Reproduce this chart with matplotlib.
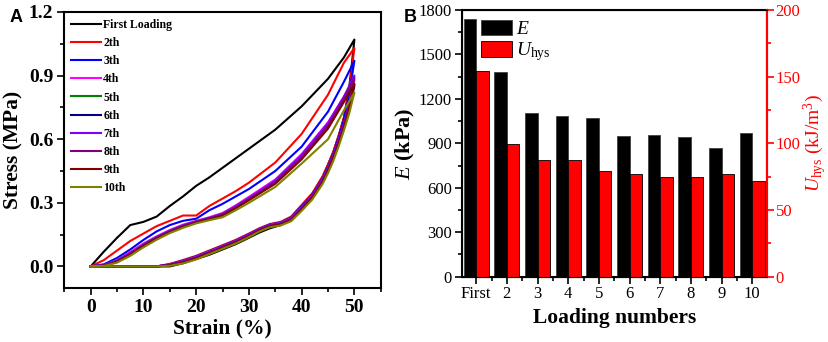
import matplotlib.pyplot as plt
from matplotlib.ticker import MultipleLocator
import numpy as np

plt.rcParams['font.family'] = ['Liberation Serif', 'DejaVu Serif']
plt.rcParams['mathtext.fontset'] = 'custom'
plt.rcParams['mathtext.rm'] = 'Liberation Serif'
plt.rcParams['mathtext.it'] = 'Liberation Serif:italic'
plt.rcParams['mathtext.bf'] = 'Liberation Serif:bold'

# ---- panel A: stress-strain loops ----
curve_labels = ["First Loading", "2th", "3th", "4th", "5th",
                "6th", "7th", "8th", "9th", "10th"]
curve_colors = ["#000000", "#ff0000", "#0000ff", "#ff00ff", "#008000",
                "#000080", "#8000ff", "#800080", "#800000", "#808000"]

load_strain = [0, 2.5, 5, 7.5, 10, 12.5, 15, 17.5, 20, 22.5, 25, 27.5,
               30, 35, 40, 45, 48, 50]
load_stress = [
    [0, 0.07, 0.135, 0.195, 0.21, 0.235, 0.285, 0.33, 0.38, 0.42, 0.465, 0.51, 0.555, 0.645, 0.755, 0.885, 0.985, 1.07],
    [0, 0.03, 0.075, 0.12, 0.155, 0.19, 0.215, 0.24, 0.24, 0.285, 0.32, 0.355, 0.395, 0.49, 0.625, 0.81, 0.96, 1.03],
    [0, 0.01, 0.04, 0.08, 0.125, 0.165, 0.195, 0.215, 0.225, 0.265, 0.295, 0.33, 0.365, 0.45, 0.565, 0.73, 0.87, 0.97],
    [0, 0.006, 0.03, 0.068, 0.108, 0.142, 0.172, 0.197, 0.215, 0.232, 0.252, 0.288, 0.328, 0.41, 0.53, 0.68, 0.8, 0.88],
    [0, 0.005, 0.027, 0.063, 0.103, 0.138, 0.168, 0.193, 0.212, 0.228, 0.248, 0.283, 0.322, 0.402, 0.52, 0.67, 0.79, 0.86],
    [0, 0.004, 0.025, 0.06, 0.1, 0.135, 0.165, 0.19, 0.21, 0.225, 0.244, 0.279, 0.318, 0.398, 0.515, 0.665, 0.785, 0.85],
    [0, 0.005, 0.026, 0.062, 0.102, 0.137, 0.167, 0.192, 0.212, 0.228, 0.247, 0.282, 0.321, 0.404, 0.525, 0.675, 0.8, 0.9],
    [0, 0.004, 0.024, 0.059, 0.099, 0.134, 0.164, 0.189, 0.209, 0.225, 0.243, 0.277, 0.316, 0.397, 0.515, 0.665, 0.79, 0.89],
    [0, 0.003, 0.022, 0.056, 0.096, 0.131, 0.161, 0.186, 0.207, 0.222, 0.24, 0.274, 0.312, 0.39, 0.505, 0.65, 0.775, 0.86],
    [0, 0.002, 0.018, 0.05, 0.09, 0.126, 0.157, 0.182, 0.203, 0.218, 0.232, 0.265, 0.3, 0.375, 0.485, 0.6, 0.735, 0.82],
]

unload_strain = [50, 49.5, 49, 48, 47, 46, 45, 44, 42, 40, 38, 36, 34,
                 32, 30, 27.5, 25, 22.5, 20, 17.5, 15, 12.5, 0]
unload_stress = [
    [1.07, 0.95, 0.84, 0.7, 0.615, 0.54, 0.48, 0.425, 0.34, 0.28, 0.225, 0.195, 0.18, 0.16, 0.135, 0.105, 0.08, 0.055, 0.035, 0.015, 0.0, 0.0, 0],
    [1.03, 0.93, 0.83, 0.7, 0.615, 0.54, 0.48, 0.425, 0.345, 0.29, 0.235, 0.21, 0.2, 0.18, 0.155, 0.125, 0.1, 0.075, 0.05, 0.03, 0.012, 0.0, 0],
    [0.97, 0.89, 0.81, 0.69, 0.605, 0.53, 0.47, 0.415, 0.338, 0.283, 0.23, 0.207, 0.198, 0.178, 0.152, 0.122, 0.097, 0.072, 0.047, 0.027, 0.01, 0.0, 0],
    [0.88, 0.82, 0.76, 0.67, 0.595, 0.522, 0.463, 0.41, 0.333, 0.279, 0.227, 0.205, 0.196, 0.176, 0.15, 0.12, 0.095, 0.07, 0.045, 0.025, 0.009, 0.0, 0],
    [0.86, 0.81, 0.75, 0.665, 0.59, 0.518, 0.46, 0.407, 0.33, 0.276, 0.225, 0.203, 0.194, 0.174, 0.148, 0.118, 0.093, 0.068, 0.043, 0.023, 0.008, 0.0, 0],
    [0.85, 0.8, 0.745, 0.66, 0.585, 0.515, 0.457, 0.404, 0.328, 0.274, 0.223, 0.2, 0.192, 0.172, 0.146, 0.116, 0.091, 0.066, 0.041, 0.021, 0.007, 0.0, 0],
    [0.9, 0.83, 0.765, 0.67, 0.592, 0.52, 0.46, 0.406, 0.33, 0.275, 0.224, 0.202, 0.195, 0.174, 0.147, 0.117, 0.092, 0.067, 0.042, 0.022, 0.007, 0.0, 0],
    [0.89, 0.82, 0.76, 0.665, 0.588, 0.516, 0.456, 0.402, 0.326, 0.272, 0.221, 0.2, 0.193, 0.172, 0.145, 0.115, 0.09, 0.065, 0.04, 0.02, 0.006, 0.0, 0],
    [0.86, 0.8, 0.745, 0.655, 0.58, 0.51, 0.452, 0.399, 0.323, 0.27, 0.219, 0.198, 0.19, 0.17, 0.143, 0.113, 0.088, 0.063, 0.038, 0.018, 0.005, 0.0, 0],
    [0.82, 0.77, 0.72, 0.64, 0.565, 0.497, 0.44, 0.39, 0.315, 0.262, 0.213, 0.193, 0.185, 0.165, 0.138, 0.108, 0.083, 0.058, 0.033, 0.014, 0.003, 0.0, 0],
]

# ---- panel B: modulus and hysteresis energy ----
loading_labels = ["First", "2", "3", "4", "5", "6", "7", "8", "9", "10"]
modulus_kpa = [1737, 1379, 1102, 1087, 1073, 950, 958, 943, 868, 972]
u_hys = [154, 99.8, 87.2, 87.2, 79, 76.7, 74.5, 74.5, 76.7, 72]

fig = plt.figure(figsize=(8.29, 3.42), dpi=100)

ax1 = fig.add_axes([0.0776, 0.159, 0.3817, 0.806])
for i in range(len(curve_labels)):
    xs = load_strain + unload_strain[1:]
    ys = load_stress[i] + unload_stress[i][1:]
    ax1.plot(xs, ys, color=curve_colors[i], lw=1.5, label=curve_labels[i])

ax1.set_xlim(-5, 55)
ax1.set_ylim(-0.1, 1.2)
ax1.xaxis.set_major_locator(MultipleLocator(10))
ax1.xaxis.set_minor_locator(MultipleLocator(5))
ax1.yaxis.set_major_locator(MultipleLocator(0.3))
ax1.yaxis.set_minor_locator(MultipleLocator(0.15))
ax1.yaxis.set_major_formatter(plt.FormatStrFormatter('%.1f'))
ax1.tick_params(which='both', direction='out', top=False, right=False, width=1.2)
ax1.tick_params(which='major', length=5, labelsize=14, pad=3)
ax1.tick_params(which='minor', length=3)
for lab in ax1.get_xticklabels() + ax1.get_yticklabels():
    lab.set_fontweight('bold')
for s in ax1.spines.values():
    s.set_linewidth(1.5)
ax1.set_xlabel("Strain (%)", fontsize=15.5, fontweight='bold', labelpad=2)
ax1.set_ylabel("Stress (MPa)", fontsize=15.5, fontweight='bold', labelpad=4)
leg = ax1.legend(loc='upper left', frameon=False, prop={'size': 8.5, 'weight': 'bold'},
                 handlelength=2.5, handletextpad=0.2, labelspacing=0.52,
                 borderaxespad=0.2, bbox_to_anchor=(0.0, 1.0))

fig.text(0.012, 0.975, "A", fontsize=13, fontweight='bold', family='Liberation Sans', va='top')
fig.text(0.487, 0.975, "B", fontsize=13, fontweight='bold', family='Liberation Sans', va='top')

# panel B
ax2 = fig.add_axes([0.557, 0.191, 0.3685, 0.78])
pos = np.arange(1, len(loading_labels) + 1)
bw = 0.41
ax2.bar(pos, modulus_kpa, width=-bw, align='edge', color='black',
        edgecolor='#404040', lw=0.6, label='$E$')
ax2.set_xlim(0.53, 10.49)
ax2.set_ylim(0, 1800)
ax2.set_xticks(pos)
ax2.set_xticklabels(loading_labels)
ax2.xaxis.set_minor_locator(MultipleLocator(0.5))
ax2.yaxis.set_major_locator(MultipleLocator(300))
ax2.yaxis.set_minor_locator(MultipleLocator(150))
ax2.tick_params(which='both', direction='out', top=False, right=False, width=1.2)
ax2.tick_params(which='major', length=5, labelsize=12, pad=2)
ax2.tick_params(which='minor', length=3)
ax2.set_xlabel("Loading numbers", fontsize=15.5, fontweight='bold', labelpad=4)
ax2.set_ylabel("$E$ (kPa)", fontsize=16, fontweight='bold', labelpad=1)
for s in ax2.spines.values():
    s.set_linewidth(1.5)

ax3 = ax2.twinx()
ax3.bar(pos, u_hys, width=bw, align='edge', color='#ff0000',
        edgecolor='black', lw=0.6, label='$U_{\\mathrm{hys}}$')
ax3.set_ylim(0, 200)
ax3.yaxis.set_major_locator(MultipleLocator(50))
ax3.yaxis.set_minor_locator(MultipleLocator(25))
ax3.tick_params(which='both', direction='out', colors='red', width=1.2)
ax3.tick_params(which='major', length=5, labelsize=12, pad=1)
ax3.tick_params(which='minor', length=3)
ax3.spines['right'].set_color('red')
ax3.spines['right'].set_linewidth(1.5)
ax3.set_ylabel("$U_{\\mathrm{hys}}$ (kJ/m$^3$)", fontsize=14, color='red', labelpad=1)

h1, l1 = ax2.get_legend_handles_labels()
h2, l2 = ax3.get_legend_handles_labels()
ax3.legend(h1 + h2, l1 + l2, loc='upper left', frameon=False, fontsize=14,
           handlelength=1.6, handleheight=0.85, handletextpad=0.2,
           labelspacing=0.12, borderaxespad=0.1, bbox_to_anchor=(0.03, 1.0))

fig.savefig("out.png", dpi=100)
